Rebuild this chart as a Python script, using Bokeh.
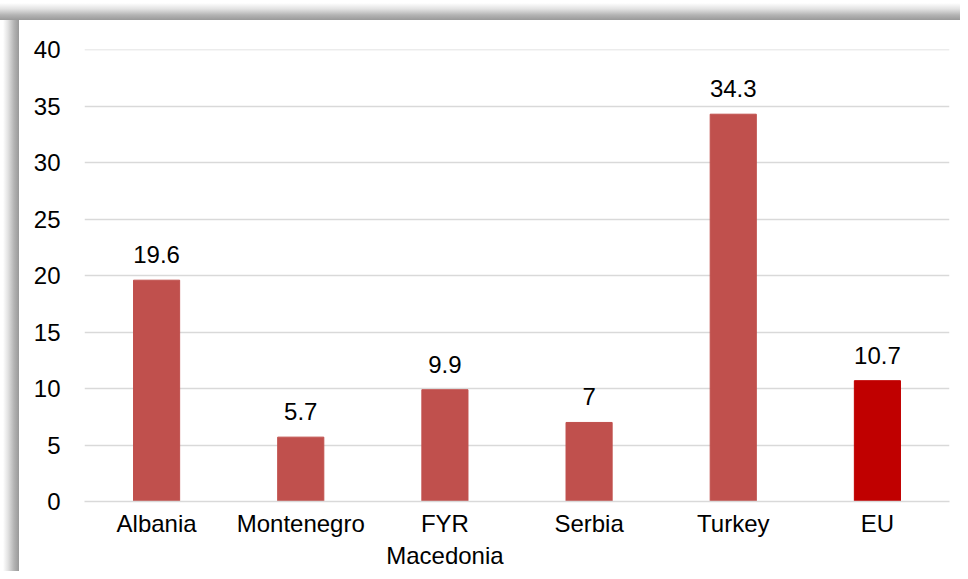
from bokeh.plotting import figure
from bokeh.models import ColumnDataSource, FactorRange, Range1d, LabelSet
from bokeh.core.properties import value
from bokeh.embed import file_html
from bokeh.resources import INLINE

countries = ["Albania", "Montenegro", "FYR\nMacedonia", "Serbia", "Turkey", "EU"]
values = [19.6, 5.7, 9.9, 7, 34.3, 10.7]
labels = ["19.6", "5.7", "9.9", "7", "34.3", "10.7"]
colors = ["#C0504D", "#C0504D", "#C0504D", "#C0504D", "#C0504D", "#C00000"]
y_ticks = [0, 5, 10, 15, 20, 25, 30, 35, 40]

src = ColumnDataSource(dict(x=countries, top=values, lab=labels, color=colors))

p = figure(x_range=FactorRange(*countries, range_padding=0), y_range=Range1d(0, 40.03),
           width=960, height=571, output_backend="svg", toolbar_location=None,
           min_border_left=84, min_border_right=11, min_border_top=49, min_border_bottom=70)
# chart frame with a soft shadow along its left and top edges
p.styles = {
    "background": ("linear-gradient(#ffffff, #ffffff) 19px 20px / 100% 100% no-repeat, "
                   "linear-gradient(to bottom, #ffffff 3px, #e2e2e2 9px, #b4b4b4 15px, #999999 20px) "
                   "0px 0px / 100% 20px no-repeat, "
                   "linear-gradient(to right, #ffffff 3px, #e2e2e2 8px, #b4b4b4 14px, #999999 19px) "
                   "0px 0px / 19px 100% no-repeat, "
                   "#ffffff"),
}
p.outline_line_color = None
p.background_fill_color = "white"
p.border_fill_color = None

p.vbar(x="x", top="top", width=0.32, color="color", source=src)

lbl = LabelSet(x="x", y="top", text="lab", source=src, text_align="center",
               text_baseline="bottom", y_offset=17, text_font=value("Liberation Sans"),
               text_font_size="24px", text_color="black")
p.add_layout(lbl)

p.xgrid.grid_line_color = None
p.ygrid.grid_line_color = "#D9D9D9"
p.ygrid.grid_line_width = 1.6
p.yaxis.ticker = y_ticks
p.yaxis.axis_line_color = None
p.xaxis.axis_line_color = "#D9D9D9"
p.xaxis.axis_line_width = 1.6
for ax in (p.xaxis, p.yaxis):
    ax.major_tick_line_color = None
    ax.minor_tick_line_color = None
    ax.major_label_text_font = "Liberation Sans"
    ax.major_label_text_font_size = "24px"
    ax.major_label_text_color = "black"
p.yaxis.major_label_standoff = 18
p.xaxis.major_label_standoff = 2

open("out.html", "w").write(file_html(p, INLINE))
